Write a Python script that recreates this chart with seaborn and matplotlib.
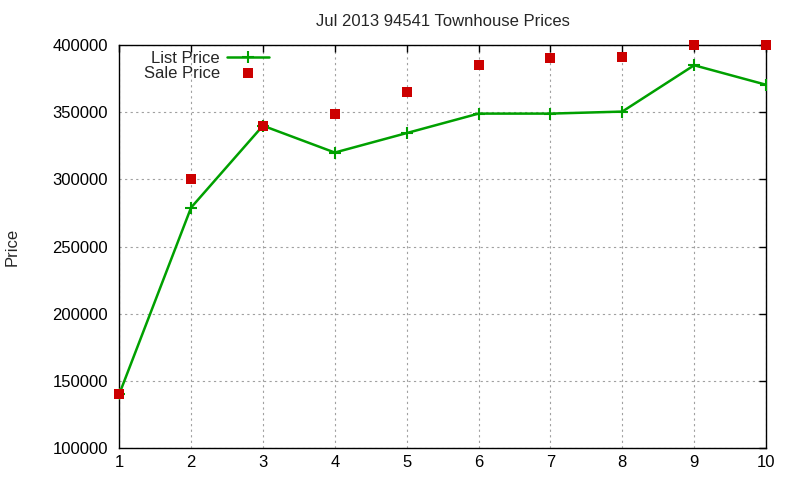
import matplotlib
matplotlib.use("Agg")
import matplotlib.pyplot as plt
import seaborn as sns
import pandas as pd

months = [1, 2, 3, 4, 5, 6, 7, 8, 9, 10]
list_price = [140000, 279000, 340000, 320000, 334500, 349000, 349000, 350500, 385000, 370500]
sale_price = [140000, 300000, 340000, 349000, 365000, 385000, 390500, 391000, 400000, 400000]
yticks = [100000, 150000, 200000, 250000, 300000, 350000, 400000]

sns.set_style("white")
plt.rcParams['font.family'] = ['Liberation Sans', 'DejaVu Sans']

df = pd.DataFrame({"x": months, "list": list_price, "sale": sale_price})

fig, ax = plt.subplots(figsize=(8, 4.8), dpi=100)
fig.subplots_adjust(left=0.149, right=0.9575, top=0.906, bottom=0.0667)

green = "#00a000"
red = "#cc0000"
sns.lineplot(data=df, x="x", y="list", ax=ax, color=green, lw=1.8, marker="+",
             markersize=8, markeredgewidth=1.5, markeredgecolor=green,
             label="List Price", zorder=3)
sns.scatterplot(data=df, x="x", y="sale", ax=ax, color=red, marker="s", s=50,
                linewidth=0, label="Sale Price", zorder=4, clip_on=False)

ax.set_xlim(1, 10)
ax.set_ylim(100000, 400000)
ax.set_xticks(months)
ax.set_yticks(yticks)
ax.set_yticklabels([str(v) for v in yticks])
ax.grid(True, color="#a0a0a0", linestyle=(0, (2, 3)), linewidth=0.8)
ax.tick_params(direction="in", length=5, top=True, right=True, labelsize=12,
               colors="black", width=1)
ax.tick_params(axis="x", pad=5)
ax.tick_params(axis="y", pad=8)
for s in ax.spines.values():
    s.set_color("black")
    s.set_linewidth(1)
ax.set_xlabel("")
ax.set_ylabel("Price", fontsize=12, labelpad=24)
ax.set_title("Jul 2013 94541 Townhouse Prices", fontsize=12, pad=14)

ax.legend(loc="upper left", bbox_to_anchor=(0.02, 1.015), frameon=False,
          markerfirst=False, fontsize=12, handlelength=2.5, handletextpad=0.45,
          labelspacing=0.0, borderaxespad=0.3)

fig.savefig("out.png", dpi=100)
